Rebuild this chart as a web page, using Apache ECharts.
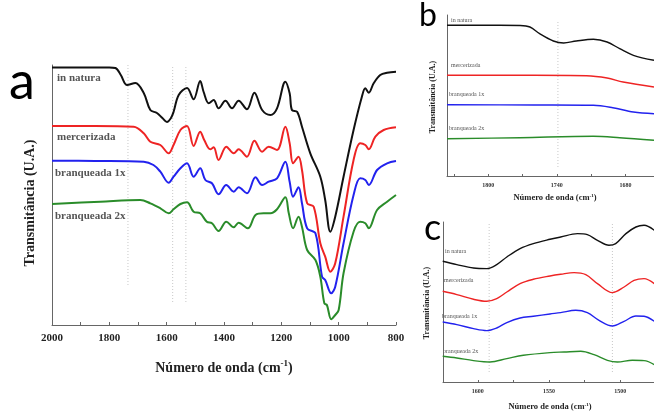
<!DOCTYPE html>
<html><head><meta charset="utf-8">
<script src="https://cdn.jsdelivr.net/npm/echarts@6/dist/echarts.min.js"></script>
<style>html,body{margin:0;padding:0;background:#fff}#c{width:654px;height:414px}</style>
</head><body><div id="c"></div>
<script>
// ---------- DATA ----------
const seriesNames = ['in natura', 'mercerizada', 'branqueada 1x', 'branqueada 2x'];

// Panel a (2000-800 cm-1)
const aTickLabels = [2000, 1800, 1600, 1400, 1200, 1000, 800];
const a_inNatura = [[2000,257.5],[1900,257.5],[1800,257.5],[1779,257],[1760,250],[1738,240],[1709,242],[1680,232],[1657,215],[1634,212],[1615,207],[1599,203],[1585,207],[1576,213],[1558,230],[1529,237],[1506,225.7],[1483,244],[1471,233],[1453,221.7],[1436,225],[1419,216.7],[1395,224.3],[1372,216.7],[1349,224.3],[1320,215.7],[1294,232.3],[1267,215],[1238,210],[1215,216.7],[1186,243.3],[1171,231.7],[1163,215],[1145,213.3],[1128,198.3],[1099,171.7],[1064,148.3],[1047,125],[1029,93.3],[1012,108.3],[983,148.3],[948,195],[919,228.3],[907,236.7],[895,232.3],[878,241.7],[855,250],[831,252.3],[800,253.3]];
const a_mercerizada = [[2000,199],[1850,199],[1715,198.3],[1680,191.7],[1657,183.3],[1622,180],[1593,171.7],[1576,180],[1552,195],[1529,199],[1506,179],[1483,193.3],[1469,185],[1448,175.7],[1436,177.7],[1419,165],[1392,178.3],[1366,171.7],[1349,175.7],[1320,168.3],[1294,184.3],[1267,173.3],[1244,178.3],[1215,175],[1186,198.3],[1171,181.7],[1159,161.7],[1140,168.3],[1128,155],[1110,121.7],[1087,118.3],[1064,81.7],[1047,68.3],[1029,53.3],[1012,61.7],[983,108.3],[948,165],[925,181.7],[907,180],[895,175.7],[872,188.3],[843,195],[800,197.7]];
const a_branq1x = [[2000,164.3],[1850,164],[1680,163.3],[1646,160],[1622,153.3],[1593,142.3],[1576,148.3],[1552,156.7],[1529,161.7],[1506,148.3],[1483,156.7],[1465,145],[1442,141.7],[1419,130.7],[1392,140],[1366,133.3],[1349,137.7],[1320,131.7],[1290,147.7],[1267,140],[1244,143.3],[1215,146.7],[1186,163.3],[1171,143.3],[1159,128.3],[1140,137.7],[1128,121.7],[1110,96.7],[1081,91.7],[1058,48.3],[1047,45],[1026,31.7],[1012,38.3],[983,81.7],[948,130],[925,146.7],[907,145],[895,140],[866,155],[831,161.7],[800,164]];
const a_branq2x = [[2000,121],[1831,123.3],[1692,125],[1657,121.7],[1622,116.7],[1593,111.7],[1576,115.7],[1552,121],[1529,122.7],[1506,113.3],[1483,111.7],[1460,103.3],[1442,101.7],[1419,94],[1392,103.3],[1366,97.7],[1349,102.3],[1317,96.7],[1290,110],[1262,111.7],[1238,111.7],[1215,115.7],[1186,127.7],[1174,111.7],[1159,96.7],[1140,108.3],[1128,98.3],[1110,75],[1081,65],[1064,48.3],[1050,21.7],[1041,20],[1026,5.7],[1012,10],[1000,15],[983,51.7],[948,93.3],[925,103.3],[907,101.7],[895,96.7],[866,115],[831,123.3],[800,130]];
const aRefLines = [1735, 1579, 1533];
const aRefLineLow = [40, 23, 23];
const aRefLineHigh = [260, 260, 260];

// Panel b (zoom 1836-1655 cm-1)
const bTickLabels = [1800, 1740, 1680];
const bTicks = [1830, 1800, 1770, 1740, 1710, 1680];
const b_inNatura = [[1836,150.7],[1790,150.7],[1772,150.5],[1763.5,149],[1755,142.3],[1743,135],[1734,133],[1723,135],[1708,136.7],[1696,134],[1685,127.3],[1673,120.7],[1655,115.7]];
const b_mercerizada = [[1836,100.7],[1760,100.7],[1714,100.3],[1696,98],[1682,94],[1655,89]];
const b_branq1x = [[1836,71.3],[1760,71],[1708,70.7],[1691,68.3],[1673,64],[1655,62.3]];
const b_branq2x = [[1836,37.3],[1772,38.3],[1708,39.7],[1685,38.3],[1655,35.7]];
const bRefLines = [1739];
const bRefLineLow = [9];
const bRefLineHigh = [156];

// Panel c (zoom 1624-1476 cm-1)
const cTickLabels = [1600, 1550, 1500];
const cTicks = [1600, 1575, 1550, 1525, 1500];
const c_inNatura = [[1624.6,120.7],[1614.7,117.4],[1603,114],[1593.7,113.4],[1586.7,117.4],[1579.6,125],[1570.3,133.4],[1561,138.4],[1549.3,142.7],[1541.8,145],[1530,148.4],[1523.1,147.4],[1516,141.7],[1507.9,136.7],[1503.2,138.4],[1496,148.4],[1489,155],[1483.3,156.7],[1476.1,151.7]];
const c_mercerizada = [[1624.6,90.7],[1614.7,87.4],[1603,82.7],[1593.7,80.7],[1586.7,83.4],[1579.6,90],[1570.3,98.4],[1561,102.7],[1549.3,106],[1541.8,107.7],[1532.4,109.4],[1524.2,107.4],[1516,98.4],[1505.5,89.4],[1497.3,95],[1490.3,101.7],[1483.3,103.4],[1476.1,98.4]];
const c_branq1x = [[1624.6,60],[1614.7,57.4],[1603,53.4],[1593.7,51.4],[1586.7,54],[1579.6,59.4],[1570.3,64],[1561,65.7],[1549.3,68],[1541.8,69.4],[1531.2,71.7],[1523.1,69.4],[1514.9,61.7],[1505.5,56],[1497.3,60.7],[1489,66],[1483.3,65.7],[1476.1,60.7]];
const c_branq2x = [[1624.6,25.7],[1614.7,24],[1603,21.4],[1591.4,20],[1579.6,23.4],[1568,26.7],[1549.3,29.4],[1539.4,30],[1527.7,30.7],[1518.4,27.4],[1509,21.7],[1502,20],[1491.5,21.7],[1483.3,21.4],[1476.1,17.4]];
const cRefLines = [1592, 1505.5];
const cRefLineLow = [10, 10];
const cRefLineHigh = [160, 160];

// ---------- STYLE ----------
const colors = ['#111111', '#ee2424', '#2222ee', '#2a8c2a'];
const SERIF = '"Liberation Serif", "DejaVu Serif", serif';
const LETTER = 'Lato, "Open Sans", sans-serif';
const plain = v => String(v);

const chart = echarts.init(document.getElementById('c'), null, {renderer: 'canvas'});

function xAxisBase(idx, min, max, opts) {
  return Object.assign({
    type: 'value', gridIndex: idx, min: min, max: max, inverse: true,
    axisLine: {show: true, onZero: false, lineStyle: {color: '#666', width: 1}},
    axisTick: {show: true, inside: true, length: 3, lineStyle: {color: '#666'}},
    splitLine: {show: false}
  }, opts || {});
}
function yAxisBase(idx, max) {
  return {
    type: 'value', gridIndex: idx, min: 0, max: max,
    axisLine: {show: true, lineStyle: {color: '#666', width: 1}},
    axisTick: {show: false}, axisLabel: {show: false}, splitLine: {show: false}
  };
}
function curves(datas, axis, width) {
  return datas.map((d, i) => ({
    type: 'line', name: seriesNames[i], xAxisIndex: axis, yAxisIndex: axis,
    data: d, smooth: 0.35, symbol: 'none', silent: true,
    lineStyle: {color: colors[i], width: width}
  }));
}
function refLines(xs, lows, highs, axis) {
  return xs.map((x, i) => ({
    type: 'line', xAxisIndex: axis, yAxisIndex: axis, symbol: 'none', silent: true,
    data: [[x, lows[i]], [x, highs[i]]],
    lineStyle: {color: '#c8c8c8', width: 1, type: [1, 2]}, z: 1
  }));
}
function titleText(x, y, size) {
  return {
    type: 'text', x: x, y: y,
    style: {
      text: '{n|Número de onda (cm}{s|-1}{n|)}',
      align: 'center', verticalAlign: 'middle',
      rich: {
        n: {fontFamily: SERIF, fontWeight: 'bold', fontSize: size, fill: '#222'},
        s: {fontFamily: SERIF, fontWeight: 'bold', fontSize: Math.round(size * 0.62), fill: '#222', padding: [0, 0, size * 0.55, 0]}
      }
    }
  };
}
function yTitle(x, y, size) {
  return {
    type: 'text', x: x, y: y, rotation: Math.PI / 2,
    style: {text: 'Transmitância (U.A.)', fontFamily: SERIF, fontWeight: 'bold', fontSize: size, fill: '#222', align: 'center', verticalAlign: 'middle'}
  };
}
function label(x, y, text, size, bold) {
  return {type: 'text', x: x, y: y, style: {text: text, fontFamily: SERIF, fontWeight: bold ? 'bold' : 'normal', fontSize: size, fill: '#555', align: 'left', verticalAlign: 'middle'}};
}
function letter(x, y, t, size) {
  return {type: 'text', x: x, y: y, style: {text: t, fontFamily: LETTER, fontSize: size, fill: '#000', align: 'left', verticalAlign: 'middle'}};
}

const option = {
  animation: false,
  backgroundColor: '#fff',
  grid: [
    {left: 52, top: 65, width: 344, height: 260},
    {left: 447, top: 15, width: 207, height: 161},
    {left: 443, top: 222, width: 211, height: 160}
  ],
  xAxis: [
    xAxisBase(0, 800, 2000, {interval: 200, minorTick: {show: true, splitNumber: 2, length: 3, lineStyle: {color: '#666'}},
      axisLabel: {color: '#222', fontFamily: SERIF, fontWeight: 'bold', fontSize: 11, margin: 8, formatter: plain, customValues: aTickLabels}}),
    xAxisBase(1, 1655, 1836, {axisTick: {show: true, inside: true, length: 2, lineStyle: {color: '#666'}, customValues: bTicks},
      axisLabel: {color: '#333', fontFamily: SERIF, fontWeight: 'bold', fontSize: 6, margin: 6, formatter: plain, customValues: bTickLabels}}),
    xAxisBase(2, 1476.3, 1624.4, {axisTick: {show: true, inside: true, length: 2, lineStyle: {color: '#666'}, customValues: cTicks},
      axisLabel: {color: '#333', fontFamily: SERIF, fontWeight: 'bold', fontSize: 6, margin: 6, formatter: plain, customValues: cTickLabels}})
  ],
  yAxis: [yAxisBase(0, 260), yAxisBase(1, 161), yAxisBase(2, 160)],
  series: [].concat(
    refLines(aRefLines, aRefLineLow, aRefLineHigh, 0),
    refLines(bRefLines, bRefLineLow, bRefLineHigh, 1),
    refLines(cRefLines, cRefLineLow, cRefLineHigh, 2),
    curves([a_inNatura, a_mercerizada, a_branq1x, a_branq2x], 0, 2),
    curves([b_inNatura, b_mercerizada, b_branq1x, b_branq2x], 1, 1.4),
    curves([c_inNatura, c_mercerizada, c_branq1x, c_branq2x], 2, 1.4)
  ),
  graphic: [
    letter(9, 82, 'a', 52),
    letter(419, 16, 'b', 32),
    letter(424, 228, 'c', 36),
    yTitle(30, 203, 14),
    titleText(224, 368, 14),
    yTitle(433, 97, 8),
    titleText(555, 198, 8.5),
    yTitle(427, 303, 8),
    titleText(550, 407, 8.5),
    label(57, 78, seriesNames[0], 11, true),
    label(57, 137, seriesNames[1], 11, true),
    label(55, 173, seriesNames[2], 11, true),
    label(55, 216, seriesNames[3], 11, true),
    label(451, 20, seriesNames[0], 6),
    label(451, 65, seriesNames[1], 6),
    label(449, 94, seriesNames[2], 6),
    label(449, 128, seriesNames[3], 6),
    label(445, 251, seriesNames[0], 6),
    label(444, 280, seriesNames[1], 6),
    label(442, 316, seriesNames[2], 6),
    label(443, 351, seriesNames[3], 6)
  ]
};
chart.setOption(option);
</script>
</body></html>
